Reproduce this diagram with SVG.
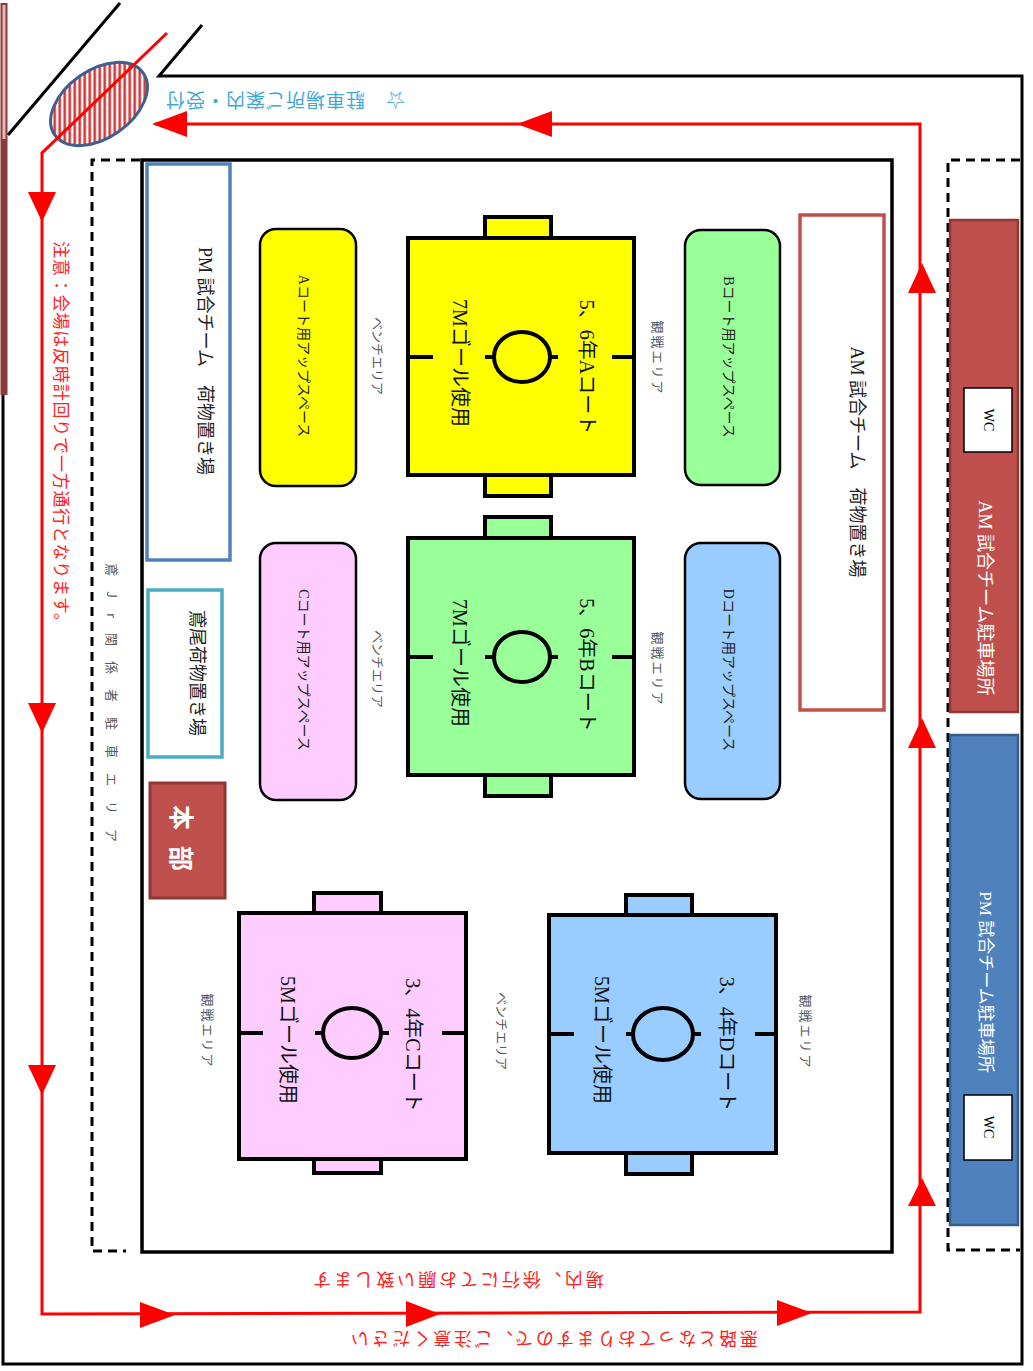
<svg xmlns="http://www.w3.org/2000/svg" width="1033" height="1371" viewBox="0 0 1033 1371">
<defs>
<pattern id="hatch" patternUnits="userSpaceOnUse" width="5" height="5" patternTransform="rotate(35)">
<rect width="5" height="5" fill="#ffffff"/>
<line x1="1.5" y1="0" x2="1.5" y2="5" stroke="#d42a2a" stroke-width="2.4"/>
</pattern>
<style>
.t{font-family:"Liberation Serif","Noto Sans CJK JP",serif;text-anchor:middle;dominant-baseline:central}
.g{font-family:"Noto Sans CJK JP","Liberation Sans",sans-serif;text-anchor:middle;dominant-baseline:central}
.gray{fill:#595959;font-size:13px}
.court{stroke:#000;stroke-width:4}
.tick{stroke:#000;stroke-width:4;fill:none}
.up{stroke:#000;stroke-width:2.5}
.dash{fill:none;stroke:#000;stroke-width:3;stroke-dasharray:9,6}
.arr{fill:#ff0000}
.ct{font-size:20px;fill:#111}
.ut{font-size:14px;fill:#222}
</style>
</defs>
<rect width="1033" height="1371" fill="#ffffff"/>

<g id="boundary">
<rect x="0.5" y="3" width="7" height="392" fill="#8c3a3a"/>
<rect x="2.5" y="5" width="3" height="134" fill="#e6b8b7"/>
<polyline points="3,395 3,1364 1022,1364 1022,76 159,76 202,25" fill="none" stroke="#000" stroke-width="3"/>
<line x1="120" y1="3" x2="8" y2="135" stroke="#000" stroke-width="3"/>
<path class="dash" d="M140,160 H92 V1251 H126"/>
<path class="dash" d="M1020,160 H948 V1250 H1020"/>
<rect x="142" y="160" width="750" height="1092" fill="none" stroke="#000" stroke-width="3.5"/>
</g>

<g id="reception">
<ellipse cx="99" cy="104" rx="54" ry="34" transform="rotate(-35 99 104)" fill="url(#hatch)" stroke="#3f5f8f" stroke-width="3"/>
<text class="g" transform="translate(285,101) rotate(180)" font-size="19" fill="#3fa7d6" letter-spacing="1">☆　駐車場所ご案内・受付</text>
</g>

<g id="connectors">
<path d="M167,33 L42,153 L42,1314 L920,1312 L920,124 L155,124" fill="none" stroke="#ff0000" stroke-width="3"/>
<polygon class="arr" points="28,192 56,192 42,222"/>
<polygon class="arr" points="28,703 56,703 42,733"/>
<polygon class="arr" points="28,1065 56,1065 42,1095"/>
<polygon class="arr" points="140,1302 140,1328 175,1315"/>
<polygon class="arr" points="406,1301 406,1327 440,1314"/>
<polygon class="arr" points="777,1300 777,1326 812,1313"/>
<polygon class="arr" points="908,293 936,293 922,263"/>
<polygon class="arr" points="908,748 936,748 922,718"/>
<polygon class="arr" points="908,1206 936,1206 922,1178"/>
<polygon class="arr" points="552,111 552,137 517,124"/>
<polygon class="arr" points="187,111 187,137 152,124"/>
</g>

<g id="notes">
<text class="g" transform="translate(62,436) rotate(90)" font-size="17" fill="#ff2020" letter-spacing="0.8">注意：会場は反時計回りで一方通行となります。</text>
<text class="g" transform="translate(457,1281) rotate(180)" font-size="18" fill="#ff2020" letter-spacing="3">場内、徐行にてお願い致します</text>
<text class="g" transform="translate(553,1340) rotate(180)" font-size="18" fill="#ff2020" letter-spacing="2.6">悪路となっておりますので、ご注意ください</text>
<text class="g gray" transform="translate(112,710) rotate(90)" letter-spacing="15">鳶Jr関係者駐車エリア</text>
</g>

<g id="am-parking">
<rect x="950" y="220" width="68" height="492" fill="#c0504d" stroke="#8c3836" stroke-width="2.5"/>
<rect x="964" y="388" width="48" height="64" fill="#fff" stroke="#000" stroke-width="1.5"/>
<text class="t" transform="translate(988,420) rotate(90)" font-size="14" fill="#000">WC</text>
<text class="t" transform="translate(985,598) rotate(90)" font-size="18" fill="#fff">AM 試合チーム駐車場所</text>
</g>

<g id="pm-parking">
<rect x="950" y="735" width="68" height="490" fill="#4f81bd" stroke="#385d8a" stroke-width="2.5"/>
<rect x="964" y="1095" width="48" height="65" fill="#fff" stroke="#000" stroke-width="1.5"/>
<text class="t" transform="translate(988,1127) rotate(90)" font-size="14" fill="#000">WC</text>
<text class="t" transform="translate(985,982) rotate(90)" font-size="17" fill="#fff">PM 試合チーム駐車場所</text>
</g>

<g id="am-luggage">
<rect x="800" y="215" width="84" height="495" fill="#fff" stroke="#c0504d" stroke-width="3.5"/>
<text class="t" transform="translate(857,462) rotate(90)" font-size="18" fill="#222">AM 試合チーム　荷物置き場</text>
</g>

<g id="pm-luggage">
<rect x="147" y="164" width="83" height="396" fill="#fff" stroke="#4f81bd" stroke-width="3.5"/>
<text class="t" transform="translate(205,361) rotate(90)" font-size="18" fill="#222">PM 試合チーム　荷物置き場</text>
</g>

<g id="tobio-luggage">
<rect x="148" y="590" width="74" height="167" fill="#fff" stroke="#4bacc6" stroke-width="3.5"/>
<text class="g" transform="translate(199,673) rotate(90)" font-size="18" fill="#222">鳶尾荷物置き場</text>
</g>

<g id="honbu">
<rect x="150" y="783" width="75" height="115" fill="#c0504d" stroke="#8c3836" stroke-width="3"/>
<text class="g" transform="translate(183,846) rotate(90)" font-size="25" font-weight="bold" fill="#fff" letter-spacing="16">本部</text>
</g>

<g id="court-a">
<rect class="court" x="485" y="217" width="66" height="279" fill="#ffff00"/>
<rect class="court" x="408" y="238" width="226" height="237" fill="#ffff00"/>
<ellipse class="tick" cx="522" cy="357" rx="28" ry="25"/>
<path class="tick" d="M408,357 H433 M612,357 H634 M485,357 H494 M550,357 H558"/>
<text class="t ct" transform="translate(587,367) rotate(90)">5、6年Aコート</text>
<text class="t ct" transform="translate(460,363) rotate(90)" font-size="19">7Mゴール使用</text>
</g>

<g id="court-b">
<rect class="court" x="485" y="517" width="66" height="279" fill="#99ff99"/>
<rect class="court" x="408" y="538" width="226" height="237" fill="#99ff99"/>
<ellipse class="tick" cx="522" cy="657" rx="28" ry="25"/>
<path class="tick" d="M408,657 H433 M612,657 H634 M485,657 H494 M550,657 H558"/>
<text class="t ct" transform="translate(587,665) rotate(90)">5、6年Bコート</text>
<text class="t ct" transform="translate(460,663) rotate(90)" font-size="19">7Mゴール使用</text>
</g>

<g id="court-c">
<rect class="court" x="314" y="893" width="67" height="280" fill="#ffccff"/>
<rect class="court" x="239" y="913" width="227" height="246" fill="#ffccff"/>
<ellipse class="tick" cx="352" cy="1033" rx="29" ry="25"/>
<path class="tick" d="M239,1033 H263 M442,1033 H466 M315,1033 H323 M381,1033 H389"/>
<text class="t ct" transform="translate(413,1045) rotate(90)">3、4年Cコート</text>
<text class="t ct" transform="translate(288,1040) rotate(90)" font-size="19">5Mゴール使用</text>
</g>

<g id="court-d">
<rect class="court" x="626" y="895" width="66" height="279" fill="#99ccff"/>
<rect class="court" x="549" y="915" width="227" height="238" fill="#99ccff"/>
<ellipse class="tick" cx="663" cy="1034" rx="30" ry="26"/>
<path class="tick" d="M549,1034 H574 M755,1034 H776 M626,1034 H633 M693,1034 H701"/>
<text class="t ct" transform="translate(727,1044) rotate(90)">3、4年Dコート</text>
<text class="t ct" transform="translate(602,1040) rotate(90)" font-size="19">5Mゴール使用</text>
</g>

<g id="up-a">
<rect class="up" x="260" y="229" width="96" height="257" rx="16" fill="#ffff00"/>
<text class="t ut" transform="translate(303,356) rotate(90)">Aコート用アップスペース</text>
</g>
<g id="up-b">
<rect class="up" x="685" y="230" width="95" height="255" rx="16" fill="#99ff99"/>
<text class="t ut" transform="translate(728,357) rotate(90)">Bコート用アップスペース</text>
</g>
<g id="up-c">
<rect class="up" x="260" y="543" width="96" height="257" rx="16" fill="#ffccff"/>
<text class="t ut" transform="translate(303,670) rotate(90)">Cコート用アップスペース</text>
</g>
<g id="up-d">
<rect class="up" x="685" y="543" width="95" height="256" rx="16" fill="#99ccff"/>
<text class="t ut" transform="translate(728,670) rotate(90)">Dコート用アップスペース</text>
</g>

<g id="area-labels">
<text class="g gray" transform="translate(378,356) rotate(90)">ベンチエリア</text>
<text class="g gray" transform="translate(658,358) rotate(90)" letter-spacing="2">観戦エリア</text>
<text class="g gray" transform="translate(378,669) rotate(90)">ベンチエリア</text>
<text class="g gray" transform="translate(658,669) rotate(90)" letter-spacing="2">観戦エリア</text>
<text class="g gray" transform="translate(208,1031) rotate(90)" letter-spacing="2">観戦エリア</text>
<text class="g gray" transform="translate(502,1031) rotate(90)">ベンチエリア</text>
<text class="g gray" transform="translate(806,1032) rotate(90)" letter-spacing="2">観戦エリア</text>
</g>
</svg>
